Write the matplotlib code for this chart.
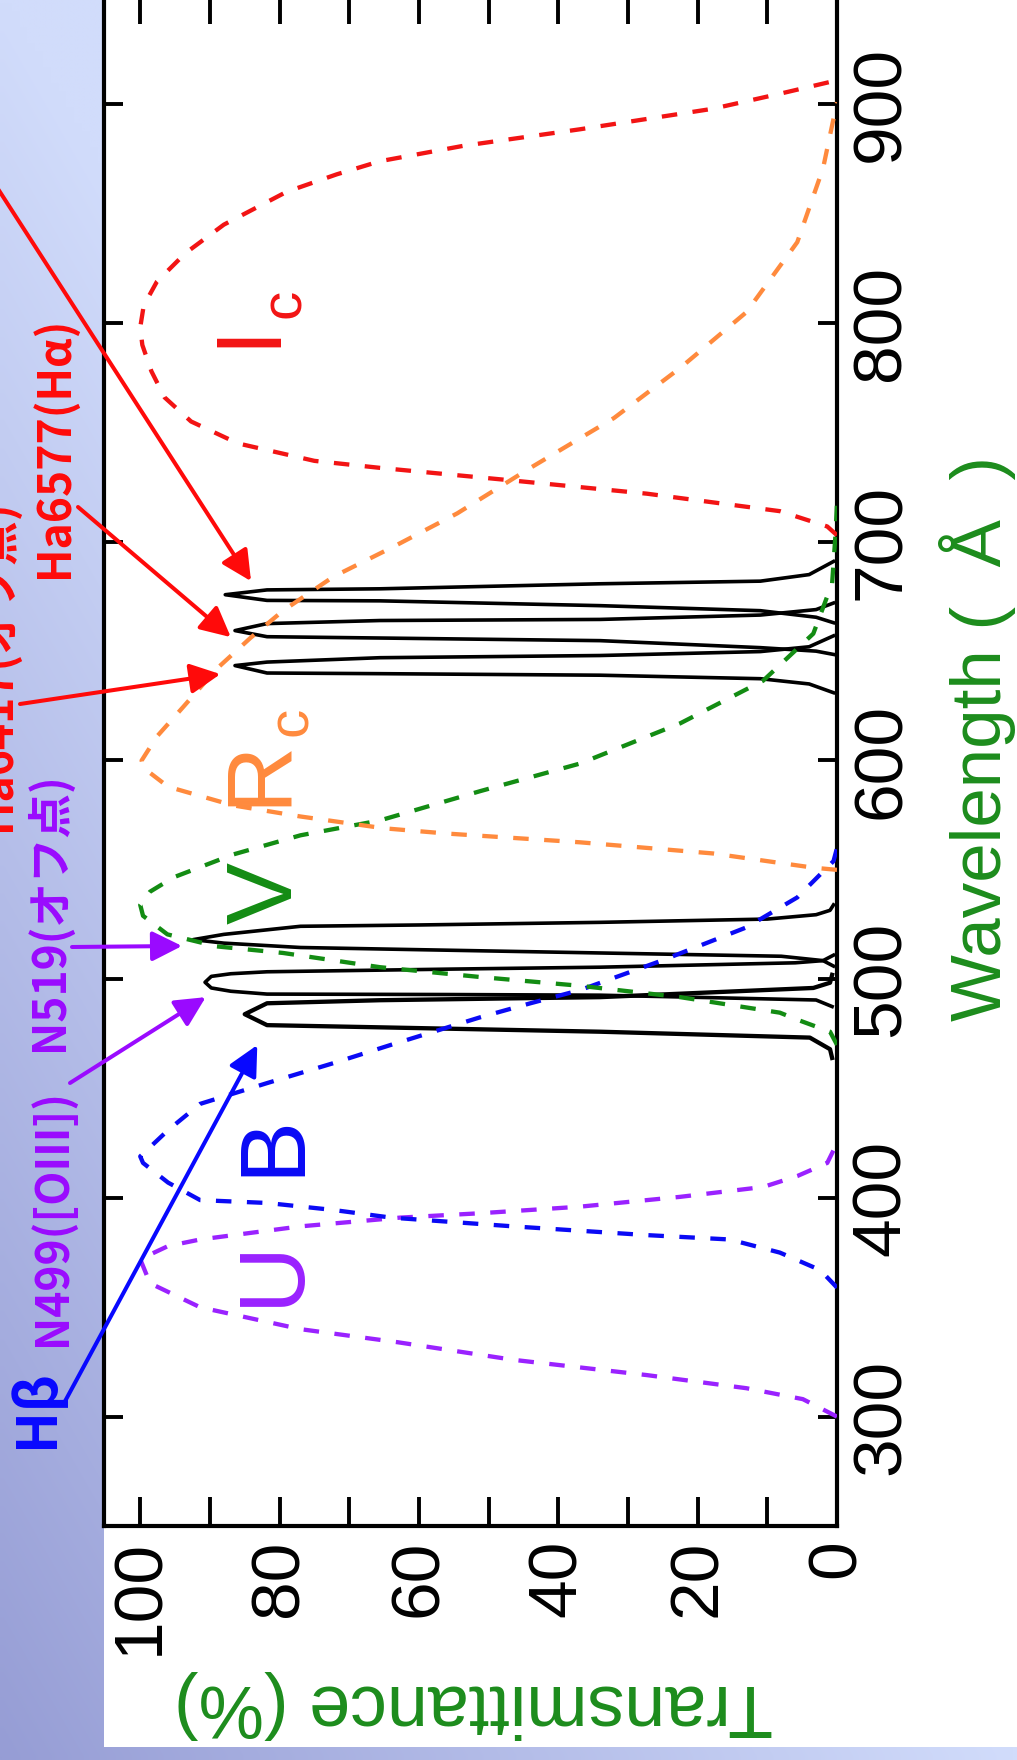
import numpy as np
import matplotlib
matplotlib.use("Agg")
import matplotlib.pyplot as plt
from matplotlib import font_manager
from matplotlib.patches import Rectangle

# ---------------- broadband filter curves (wavelength nm, transmittance %) ----------------
wl_U = [300, 308, 313, 319, 326, 334, 340, 350, 361, 372, 378, 381, 387, 391, 393, 396, 400.5, 405, 410, 416, 425]
tr_U = [0, 4.9, 13, 27.3, 46.5, 63, 77, 91.4, 98.6, 100, 96, 91.4, 77, 62.7, 51.2, 36.9, 22.5, 10.6, 5.7, 1.4, 0]

wl_B = [359, 367, 375, 381, 383, 387, 391, 394.5, 397.7, 399, 407, 416, 419,
        431, 443, 452.5, 461.6, 470, 482.6, 489, 495, 508.7, 523.7, 537.4, 554, 560]
tr_B = [0, 2.4, 8.2, 15.4, 27.3, 46.5, 64, 72.3, 81.8, 91.4, 96, 99.6, 100,
        96, 91.4, 81.8, 72.3, 64, 51.2, 44, 36.9, 25, 13, 5.7, 0.5, 0]

wl_V = [470, 476, 481.5, 484.7, 491.8, 497, 501, 505.5, 512, 515, 520.5, 529, 534,
        540, 546.6, 557, 565.8, 572.6, 586, 598.6, 617, 636.5, 658, 681, 704, 718]
tr_V = [0, 1, 5.7, 8.2, 22.5, 36.9, 51.2, 65.6, 79.5, 89, 96.1, 99.6, 100,
        98.6, 95.2, 86.7, 77, 65.6, 51.2, 36.9, 22.5, 10.6, 3.4, 0.7, 0.2, 0]

wl_Rc = [550, 551, 557.5, 562.6, 566.6, 569, 574.4, 579.5, 588, 596.8, 600,
         611, 624.6, 642, 656, 668.5, 684, 698, 713, 733.8, 756.6, 779.5, 805, 837, 870.8, 901]
tr_Rc = [0, 3.4, 17.8, 36.9, 56, 65, 77, 86.7, 96, 99.6, 99.8,
         97.6, 93.8, 89, 84.2, 79.5, 72.3, 63.5, 54.5, 44, 32, 22.5, 13, 5.7, 2, 0]

wl_Ic = [703, 707, 714, 722, 728, 733.8, 737, 745, 755, 766, 778, 790, 798,
         808, 819, 832, 845, 860, 868, 874, 881, 888.6, 898, 905, 911]
tr_Ic = [0, 1.4, 8.2, 27.3, 46.5, 65.6, 75, 86, 92.7, 96.5, 98.4, 99.7, 100,
         99.5, 97.6, 93.5, 88, 79, 71.8, 65.6, 53.7, 36.9, 17.8, 8, 0]

# ---------------- narrowband filter curves ----------------
wl_Hb = [464, 468, 473.3, 476, 478, 479, 484, 489, 490.4, 491.8, 496, 498.4, 502]
tr_Hb = [0.7, 1, 3.9, 34, 65.6, 81.8, 85, 81.8, 65.6, 34, 3.4, 1, 0.7]

wl_N499 = [487.5, 490.5, 492.7, 493, 493.2, 494.5, 496, 498.6, 501.3, 502.5, 503.4, 504.6, 505.5, 507.5, 508.5, 511]
tr_N499 = [0.7, 3, 34, 56, 81.8, 87, 89.8, 90.7, 89.8, 87, 81.8, 56, 34, 6, 2, 0.5]

wl_N519 = [506, 508.5, 510.5, 512, 513.5, 514.5, 516.5, 518.1, 520.5, 524.2, 524.8, 526, 527.5, 529.5, 531.5, 534]
tr_N519 = [0.5, 2, 8, 34, 60, 77, 88, 92.4, 88, 77, 60, 34, 10, 3, 1, 0.5]

wl_Ha6417 = [631, 635, 637.4, 639, 639.7, 640, 643.4, 645, 647, 648, 649.8, 652, 657]
tr_Ha6417 = [0.5, 4, 11, 34, 65.6, 81.8, 86.4, 81.8, 65.6, 34, 11, 4, 0.5]

wl_Ha6577 = [648.5, 650, 651.6, 654.8, 656, 656.6, 659.4, 662.6, 664, 664.5, 666.5, 669, 672]
tr_Ha6577 = [0.5, 3, 11, 34, 65.6, 81.8, 86.4, 81.8, 65.6, 34, 11, 3, 0.5]

wl_Ha6750 = [663, 665.5, 668.5, 670.8, 673, 673.2, 675.8, 678, 678.5, 680.8, 682, 685, 691]
tr_Ha6750 = [0.5, 3, 11, 34, 65.6, 81.8, 87.8, 81.8, 65.6, 34, 11, 4, 0.5]

# ---------------- axis ticks ----------------
tr_ticks = [0, 20, 40, 60, 80, 100]
tr_minor = [10, 30, 50, 70, 90]
wl_ticks = [300, 400, 500, 600, 700, 800, 900]

# ---------------- annotation targets (transmittance %, wavelength nm) ----------------
tip_Hb = (83.2, 469.9)
tip_N499 = (90.6, 491.8)
tip_N519 = (94.0, 515.2)
tip_Ha6417 = (88.5, 639.5)
tip_Ha6577 = (87.0, 656.4)
tip_Ha6750 = (84.1, 682.0)

COL_U = '#9A22FF'
COL_B = '#0A0AF5'
COL_V = '#138C13'
COL_R = '#FF8A3D'
COL_I = '#F21414'
COL_LABEL = '#1C8C1C'
COL_RED = '#FF0A0A'
COL_PURPLE = '#9A0AFF'
COL_BLUE = '#0808FF'

installed = {f.name for f in font_manager.fontManager.ttflist}
if 'Liberation Sans Narrow' in installed:
    tick_font, tick_size = ['Liberation Sans Narrow', 'DejaVu Sans'], 56
else:
    tick_font, tick_size = ['Liberation Sans', 'DejaVu Sans'], 50

W, H, DPI = 1017, 1760, 100
fig = plt.figure(figsize=(W / DPI, H / DPI), dpi=DPI)

# soft blue gradient backdrop
bg = fig.add_axes([0, 0, 1, 1], zorder=-10)
bg.set_axis_off()
yf = np.linspace(0, 1, 220)[:, None]
xf = np.linspace(0, 1, 130)[None, :]
s = np.clip(xf + (1 - yf), 0, 1)
dark = np.array([150, 157, 213]) / 255
light = np.array([209, 220, 251]) / 255
img = dark + (light - dark) * s[..., None]
bg.imshow(img, extent=[0, 1, 0, 1], aspect='auto', origin='upper', interpolation='bilinear')
bg.set_xlim(0, 1)
bg.set_ylim(0, 1)

# white panel
fig.patches.append(Rectangle((104 / W, 13 / H), 1 - 104 / W, 1, transform=fig.transFigure,
                             facecolor='white', edgecolor='none', zorder=-5))

ax = fig.add_axes([104 / W, (H - 1526) / H, (837 - 104) / W, 1531 / H])
ax.set_facecolor('white')
ax.set_xlim(105.2, 0)
ax.set_ylim(250, 950)

dash = (0, (3.6, 3.6))
for tr, wl, c in [(tr_U, wl_U, COL_U), (tr_B, wl_B, COL_B), (tr_V, wl_V, COL_V),
                  (tr_Rc, wl_Rc, COL_R), (tr_Ic, wl_Ic, COL_I)]:
    ax.plot(tr, wl, color=c, lw=3.1, linestyle=dash, zorder=3, dash_capstyle='butt')

for tr, wl, lw in [(tr_Hb, wl_Hb, 3.1), (tr_N499, wl_N499, 2.6), (tr_N519, wl_N519, 2.6),
                   (tr_Ha6417, wl_Ha6417, 2.6), (tr_Ha6577, wl_Ha6577, 2.6), (tr_Ha6750, wl_Ha6750, 2.6)]:
    ax.plot(tr, wl, color='black', lw=lw, zorder=2.6, solid_joinstyle='round')

for sp in ax.spines.values():
    sp.set_linewidth(3.0)
    sp.set_zorder(2.5)

ax.set_xticks(tr_ticks)
ax.set_xticks(tr_minor, minor=True)
ax.set_xticklabels([str(v) for v in tr_ticks], rotation=90, fontsize=tick_size, family=tick_font)
ax.tick_params(axis='x', which='both', direction='in', length=21, width=2.8,
               top=True, bottom=True, pad=9.5)
ax.set_yticks(wl_ticks)
ax.set_yticklabels([str(v) for v in wl_ticks], rotation=90, fontsize=tick_size, family=tick_font)
ax.tick_params(axis='y', direction='in', length=14, width=2.8, left=True, right=True,
               labelleft=False, labelright=True, pad=9)
for lab in ax.get_yticklabels():
    lab.set_va('center')


def fpx(x, y):
    return (x / W, 1 - y / H)


# axis titles
fig.text(*fpx(1001, 738), 'Wavelength (  Å  )', rotation=90, rotation_mode='anchor',
         ha='center', va='baseline', fontsize=51, color=COL_LABEL,
         family=['Liberation Sans', 'DejaVu Sans'])
fig.text(*fpx(473, 1704), 'Transmittance (%)', rotation=180, ha='center', va='center',
         fontsize=53, color=COL_LABEL, family=['Liberation Sans', 'DejaVu Sans'])

# filter band names
band_font = ['Liberation Sans', 'DejaVu Sans']
for txt, x, y, col, size in [('U', 298, 1272, COL_U, 67), ('B', 298, 1145, COL_B, 67),
                             ('V', 292, 893, COL_V, 67), ('R', 285, 772, COL_R, 67),
                             ('c', 307, 721, COL_R, 42), ('I', 273, 334, COL_I, 67),
                             ('c', 300, 303, COL_I, 42)]:
    fig.text(*fpx(x, y), txt, rotation=90, rotation_mode='anchor', ha='center', va='baseline',
             fontsize=size, color=col, family=band_font)

# narrowband filter annotations: text, (baseline x, centre y), size, colour, arrow tail, arrow tip
jp_font = ['Noto Sans CJK JP', 'DejaVu Sans']
notes = [
    ('Hβ', (53, 1408), 40, COL_BLUE, (63, 1405), tip_Hb),
    ('N499([OIII])', (66, 1218), 32, COL_PURPLE, (70, 1083), tip_N499),
    ('N519(オフ点)', (63, 912), 32, COL_PURPLE, (72, 947), tip_N519),
    ('Ha6417(オフ点)', (10, 665), 32, COL_RED, (20, 704), tip_Ha6417),
    ('Ha6577(Hα)', (68, 447), 32, COL_RED, (78, 507), tip_Ha6577),
]
arrow_style = '-|>,head_length=0.4,head_width=0.2'
for txt, (tx, ty), size, col, (ax0, ay0), tip in notes:
    fig.text(*fpx(tx, ty), txt, rotation=90, rotation_mode='anchor', ha='center', va='baseline',
             fontsize=size, color=col, family=jp_font, weight='bold')
    ax.annotate('', xy=tip, xycoords='data', xytext=(ax0, H - ay0), textcoords='figure pixels',
                arrowprops=dict(arrowstyle=arrow_style, color=col,
                                lw=2.9, mutation_scale=46, shrinkA=0, shrinkB=0),
                annotation_clip=False)

ax.annotate('', xy=tip_Ha6750, xycoords='data', xytext=(-40, H - 130), textcoords='figure pixels',
            arrowprops=dict(arrowstyle=arrow_style, color=COL_RED,
                            lw=2.9, mutation_scale=46, shrinkA=0, shrinkB=0),
            annotation_clip=False)

fig.savefig('out.png', dpi=DPI)
